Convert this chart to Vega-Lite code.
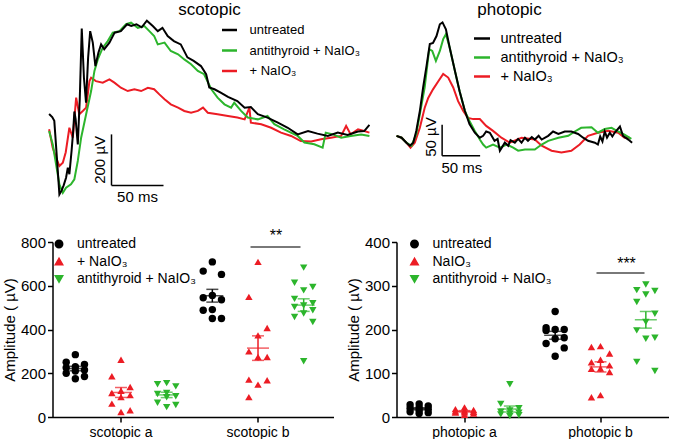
{
  "$schema": "https://vega.github.io/schema/vega-lite/v6.json",
  "padding": {"left": 1.5, "top": 0, "right": 0, "bottom": 0},
  "config": {
    "font": "Liberation Sans",
    "view": {"stroke": null},
    "axis": {"labelColor": "black", "titleColor": "black", "domainColor": "black", "tickColor": "black", "grid": false},
    "legend": {"labelColor": "black"}
  },
  "spacing": 22,
  "resolve": {"scale": {"x": "independent", "y": "independent", "color": "independent", "shape": "independent", "xOffset": "independent"}, "legend": {"color": "independent", "shape": "independent"}},
  "vconcat": [
    {
      "spacing": 6,
      "resolve": {"scale": {"x": "independent", "y": "independent", "color": "independent"}, "legend": {"color": "independent"}},
      "hconcat": [
        {
          "width": 328,
          "height": 184,
          "title": {"text": "scotopic", "fontSize": 17, "fontWeight": "normal", "anchor": "middle", "dx": -7, "offset": -2, "color": "black"},
          "layer": [
            {
              "data": {"values": [
                {"s": "+ NaIO₃", "t": 0, "a": -60}, {"s": "+ NaIO₃", "t": 3.5, "a": -132}, {"s": "+ NaIO₃", "t": 6.7, "a": -171}, {"s": "+ NaIO₃", "t": 9.9, "a": -204}, {"s": "+ NaIO₃", "t": 13.2, "a": -191}, {"s": "+ NaIO₃", "t": 16, "a": -150}, {"s": "+ NaIO₃", "t": 19.5, "a": -54}, {"s": "+ NaIO₃", "t": 22.8, "a": -93}, {"s": "+ NaIO₃", "t": 26, "a": 64}, {"s": "+ NaIO₃", "t": 29, "a": -1}, {"s": "+ NaIO₃", "t": 32.4, "a": 12}, {"s": "+ NaIO₃", "t": 35.6, "a": 25}, {"s": "+ NaIO₃", "t": 38.8, "a": 129}, {"s": "+ NaIO₃", "t": 40.4, "a": 142}, {"s": "+ NaIO₃", "t": 45, "a": 129}, {"s": "+ NaIO₃", "t": 51.6, "a": 123}, {"s": "+ NaIO₃", "t": 58, "a": 136}, {"s": "+ NaIO₃", "t": 62.8, "a": 123}, {"s": "+ NaIO₃", "t": 69, "a": 103}, {"s": "+ NaIO₃", "t": 75.6, "a": 90}, {"s": "+ NaIO₃", "t": 82, "a": 97}, {"s": "+ NaIO₃", "t": 88.5, "a": 90}, {"s": "+ NaIO₃", "t": 95, "a": 103}, {"s": "+ NaIO₃", "t": 101, "a": 97}, {"s": "+ NaIO₃", "t": 106, "a": 77}, {"s": "+ NaIO₃", "t": 111, "a": 58}, {"s": "+ NaIO₃", "t": 117, "a": 38}, {"s": "+ NaIO₃", "t": 124, "a": 25}, {"s": "+ NaIO₃", "t": 130, "a": 12}, {"s": "+ NaIO₃", "t": 136.5, "a": 5}, {"s": "+ NaIO₃", "t": 143, "a": 12}, {"s": "+ NaIO₃", "t": 148, "a": 25}, {"s": "+ NaIO₃", "t": 152.6, "a": 5}, {"s": "+ NaIO₃", "t": 162, "a": -1}, {"s": "+ NaIO₃", "t": 172, "a": -8}, {"s": "+ NaIO₃", "t": 181, "a": -14}, {"s": "+ NaIO₃", "t": 188, "a": -21}, {"s": "+ NaIO₃", "t": 192.6, "a": 25}, {"s": "+ NaIO₃", "t": 194, "a": -34}, {"s": "+ NaIO₃", "t": 204, "a": -40}, {"s": "+ NaIO₃", "t": 213.5, "a": -54}, {"s": "+ NaIO₃", "t": 223, "a": -73}, {"s": "+ NaIO₃", "t": 232.7, "a": -86}, {"s": "+ NaIO₃", "t": 242, "a": -106}, {"s": "+ NaIO₃", "t": 252, "a": -108}, {"s": "+ NaIO₃", "t": 261.5, "a": -99}, {"s": "+ NaIO₃", "t": 271, "a": -93}, {"s": "+ NaIO₃", "t": 280.8, "a": -86}, {"s": "+ NaIO₃", "t": 285.6, "a": -47}, {"s": "+ NaIO₃", "t": 290, "a": -80}, {"s": "+ NaIO₃", "t": 297, "a": -60}, {"s": "+ NaIO₃", "t": 303, "a": -67}, {"s": "+ NaIO₃", "t": 308, "a": -73},
                {"s": "antithyroid + NaIO₃", "t": 0, "a": -67}, {"s": "antithyroid + NaIO₃", "t": 3.5, "a": -119}, {"s": "antithyroid + NaIO₃", "t": 6.7, "a": -197}, {"s": "antithyroid + NaIO₃", "t": 9.9, "a": -276}, {"s": "antithyroid + NaIO₃", "t": 13.2, "a": -309}, {"s": "antithyroid + NaIO₃", "t": 16.3, "a": -289}, {"s": "antithyroid + NaIO₃", "t": 21, "a": -276}, {"s": "antithyroid + NaIO₃", "t": 24.3, "a": -256}, {"s": "antithyroid + NaIO₃", "t": 27.6, "a": -184}, {"s": "antithyroid + NaIO₃", "t": 30.8, "a": -93}, {"s": "antithyroid + NaIO₃", "t": 35.6, "a": -1}, {"s": "antithyroid + NaIO₃", "t": 40.4, "a": 90}, {"s": "antithyroid + NaIO₃", "t": 43.6, "a": 169}, {"s": "antithyroid + NaIO₃", "t": 46.8, "a": 214}, {"s": "antithyroid + NaIO₃", "t": 51.6, "a": 260}, {"s": "antithyroid + NaIO₃", "t": 56.4, "a": 286}, {"s": "antithyroid + NaIO₃", "t": 61.2, "a": 319}, {"s": "antithyroid + NaIO₃", "t": 67.6, "a": 325}, {"s": "antithyroid + NaIO₃", "t": 74, "a": 352}, {"s": "antithyroid + NaIO₃", "t": 78.8, "a": 358}, {"s": "antithyroid + NaIO₃", "t": 85.3, "a": 338}, {"s": "antithyroid + NaIO₃", "t": 91.6, "a": 345}, {"s": "antithyroid + NaIO₃", "t": 96.4, "a": 325}, {"s": "antithyroid + NaIO₃", "t": 101, "a": 306}, {"s": "antithyroid + NaIO₃", "t": 104.5, "a": 273}, {"s": "antithyroid + NaIO₃", "t": 111, "a": 280}, {"s": "antithyroid + NaIO₃", "t": 117, "a": 247}, {"s": "antithyroid + NaIO₃", "t": 124, "a": 234}, {"s": "antithyroid + NaIO₃", "t": 130, "a": 214}, {"s": "antithyroid + NaIO₃", "t": 136.5, "a": 195}, {"s": "antithyroid + NaIO₃", "t": 143, "a": 169}, {"s": "antithyroid + NaIO₃", "t": 149, "a": 156}, {"s": "antithyroid + NaIO₃", "t": 156, "a": 97}, {"s": "antithyroid + NaIO₃", "t": 162, "a": 64}, {"s": "antithyroid + NaIO₃", "t": 168.6, "a": 38}, {"s": "antithyroid + NaIO₃", "t": 175, "a": 25}, {"s": "antithyroid + NaIO₃", "t": 178, "a": 44}, {"s": "antithyroid + NaIO₃", "t": 184.6, "a": 12}, {"s": "antithyroid + NaIO₃", "t": 191, "a": -14}, {"s": "antithyroid + NaIO₃", "t": 200.7, "a": -21}, {"s": "antithyroid + NaIO₃", "t": 210, "a": -8}, {"s": "antithyroid + NaIO₃", "t": 216.6, "a": -40}, {"s": "antithyroid + NaIO₃", "t": 226, "a": -60}, {"s": "antithyroid + NaIO₃", "t": 239, "a": -86}, {"s": "antithyroid + NaIO₃", "t": 245.5, "a": -112}, {"s": "antithyroid + NaIO₃", "t": 255, "a": -119}, {"s": "antithyroid + NaIO₃", "t": 263, "a": -132}, {"s": "antithyroid + NaIO₃", "t": 266, "a": -73}, {"s": "antithyroid + NaIO₃", "t": 272.8, "a": -80}, {"s": "antithyroid + NaIO₃", "t": 280.8, "a": -93}, {"s": "antithyroid + NaIO₃", "t": 290, "a": -86}, {"s": "antithyroid + NaIO₃", "t": 300, "a": -80}, {"s": "antithyroid + NaIO₃", "t": 308, "a": -86},
                {"s": "untreated", "t": 0, "a": 0}, {"s": "untreated", "t": 3, "a": -12}, {"s": "untreated", "t": 5, "a": -27}, {"s": "untreated", "t": 7.7, "a": -184}, {"s": "untreated", "t": 9.9, "a": -315}, {"s": "untreated", "t": 12, "a": -300}, {"s": "untreated", "t": 14, "a": -280}, {"s": "untreated", "t": 16.3, "a": -250}, {"s": "untreated", "t": 18, "a": -211}, {"s": "untreated", "t": 19.5, "a": -236}, {"s": "untreated", "t": 21.6, "a": -145}, {"s": "untreated", "t": 23.1, "a": -70}, {"s": "untreated", "t": 24.3, "a": 10}, {"s": "untreated", "t": 25.5, "a": -20}, {"s": "untreated", "t": 27.6, "a": -119}, {"s": "untreated", "t": 29.5, "a": 60}, {"s": "untreated", "t": 31.4, "a": 335}, {"s": "untreated", "t": 33.5, "a": 142}, {"s": "untreated", "t": 35.5, "a": 44}, {"s": "untreated", "t": 37.5, "a": 220}, {"s": "untreated", "t": 39.5, "a": 325}, {"s": "untreated", "t": 42, "a": 280}, {"s": "untreated", "t": 44.5, "a": 188}, {"s": "untreated", "t": 47.4, "a": 240}, {"s": "untreated", "t": 50, "a": 273}, {"s": "untreated", "t": 53, "a": 254}, {"s": "untreated", "t": 58, "a": 280}, {"s": "untreated", "t": 63, "a": 319}, {"s": "untreated", "t": 69, "a": 325}, {"s": "untreated", "t": 75, "a": 352}, {"s": "untreated", "t": 79, "a": 345}, {"s": "untreated", "t": 84, "a": 352}, {"s": "untreated", "t": 89, "a": 340}, {"s": "untreated", "t": 94, "a": 366}, {"s": "untreated", "t": 99.7, "a": 345}, {"s": "untreated", "t": 104.5, "a": 325}, {"s": "untreated", "t": 109, "a": 338}, {"s": "untreated", "t": 114, "a": 306}, {"s": "untreated", "t": 120, "a": 286}, {"s": "untreated", "t": 126.6, "a": 273}, {"s": "untreated", "t": 133, "a": 222}, {"s": "untreated", "t": 139, "a": 208}, {"s": "untreated", "t": 146, "a": 188}, {"s": "untreated", "t": 151, "a": 156}, {"s": "untreated", "t": 154, "a": 104}, {"s": "untreated", "t": 159, "a": 97}, {"s": "untreated", "t": 165, "a": 84}, {"s": "untreated", "t": 172, "a": 67}, {"s": "untreated", "t": 181, "a": 51}, {"s": "untreated", "t": 188, "a": 25}, {"s": "untreated", "t": 194, "a": 27}, {"s": "untreated", "t": 200.7, "a": -1}, {"s": "untreated", "t": 210, "a": -14}, {"s": "untreated", "t": 220, "a": -34}, {"s": "untreated", "t": 229.5, "a": -54}, {"s": "untreated", "t": 239, "a": -80}, {"s": "untreated", "t": 249, "a": -67}, {"s": "untreated", "t": 258, "a": -77}, {"s": "untreated", "t": 268, "a": -86}, {"s": "untreated", "t": 277.6, "a": -73}, {"s": "untreated", "t": 287, "a": -82}, {"s": "untreated", "t": 297, "a": -69}, {"s": "untreated", "t": 303, "a": -67}, {"s": "untreated", "t": 308, "a": -43}
              ]},
              "mark": {"type": "line", "strokeWidth": 2},
              "encoding": {
                "x": {"field": "t", "type": "quantitative", "scale": {"domain": [3.27, 318.65], "nice": false, "zero": false}, "axis": null},
                "y": {"field": "a", "type": "quantitative", "scale": {"domain": [-341.2, 380.4], "nice": false, "zero": false}, "axis": null},
                "color": {"field": "s", "type": "nominal",
                  "scale": {"domain": ["untreated", "antithyroid + NaIO₃", "+ NaIO₃"], "range": ["#000000", "#2cb52c", "#ec1c24"]},
                  "legend": {"orient": "none", "legendX": 168, "legendY": 4, "title": null, "symbolType": "stroke", "symbolStrokeWidth": 2.5, "symbolSize": 225, "labelFontSize": 13, "labelOffset": 11, "rowPadding": 4.5, "padding": 0}}
              }
            },
            {
              "data": {"values": [{"t": 60, "a": -80, "t2": 60, "a2": -280}, {"t": 60, "a": -280, "t2": 110, "a2": -280}]},
              "mark": {"type": "rule", "color": "black", "strokeWidth": 1.5},
              "encoding": {"x": {"field": "t", "type": "quantitative"}, "y": {"field": "a", "type": "quantitative"}, "x2": {"field": "t2"}, "y2": {"field": "a2"}}
            },
            {
              "data": {"values": [{"t": 49, "a": -180, "label": "200 µV"}]},
              "mark": {"type": "text", "angle": 270, "fontSize": 15, "color": "black", "baseline": "middle", "align": "center"},
              "encoding": {"x": {"field": "t", "type": "quantitative"}, "y": {"field": "a", "type": "quantitative"}, "text": {"field": "label"}}
            },
            {
              "data": {"values": [{"t": 85, "a": -326, "label": "50 ms"}]},
              "mark": {"type": "text", "fontSize": 15, "color": "black", "baseline": "middle", "align": "center"},
              "encoding": {"x": {"field": "t", "type": "quantitative"}, "y": {"field": "a", "type": "quantitative"}, "text": {"field": "label"}}
            }
          ]
        },
        {
          "width": 288,
          "height": 184,
          "title": {"text": "photopic", "fontSize": 17, "fontWeight": "normal", "anchor": "middle", "dx": -21, "offset": -2, "color": "black"},
          "layer": [
            {
              "data": {"values": [
                {"s": "+ NaIO₃", "t": 0, "a": -3}, {"s": "+ NaIO₃", "t": 6.6, "a": -6}, {"s": "+ NaIO₃", "t": 13, "a": -14}, {"s": "+ NaIO₃", "t": 18.4, "a": -22}, {"s": "+ NaIO₃", "t": 24, "a": -14}, {"s": "+ NaIO₃", "t": 30.7, "a": 10}, {"s": "+ NaIO₃", "t": 37, "a": 42}, {"s": "+ NaIO₃", "t": 41.7, "a": 58}, {"s": "+ NaIO₃", "t": 48, "a": 72}, {"s": "+ NaIO₃", "t": 55, "a": 85}, {"s": "+ NaIO₃", "t": 61.4, "a": 97}, {"s": "+ NaIO₃", "t": 68, "a": 91}, {"s": "+ NaIO₃", "t": 74.6, "a": 75}, {"s": "+ NaIO₃", "t": 81, "a": 53}, {"s": "+ NaIO₃", "t": 87.8, "a": 37}, {"s": "+ NaIO₃", "t": 94, "a": 26}, {"s": "+ NaIO₃", "t": 101, "a": 24}, {"s": "+ NaIO₃", "t": 109.6, "a": 24}, {"s": "+ NaIO₃", "t": 118, "a": 13}, {"s": "+ NaIO₃", "t": 127, "a": 5}, {"s": "+ NaIO₃", "t": 138, "a": -6}, {"s": "+ NaIO₃", "t": 149, "a": -14}, {"s": "+ NaIO₃", "t": 164.5, "a": -6}, {"s": "+ NaIO₃", "t": 182, "a": -9}, {"s": "+ NaIO₃", "t": 191, "a": -19}, {"s": "+ NaIO₃", "t": 204, "a": -27}, {"s": "+ NaIO₃", "t": 217, "a": -30}, {"s": "+ NaIO₃", "t": 230, "a": -27}, {"s": "+ NaIO₃", "t": 241, "a": -17}, {"s": "+ NaIO₃", "t": 252, "a": -3}, {"s": "+ NaIO₃", "t": 265, "a": 2}, {"s": "+ NaIO₃", "t": 278.5, "a": 5}, {"s": "+ NaIO₃", "t": 291.7, "a": 2}, {"s": "+ NaIO₃", "t": 300, "a": -6}, {"s": "+ NaIO₃", "t": 307, "a": -6},
                {"s": "antithyroid + NaIO₃", "t": 0, "a": -3}, {"s": "antithyroid + NaIO₃", "t": 6.6, "a": -6}, {"s": "antithyroid + NaIO₃", "t": 13, "a": -14}, {"s": "antithyroid + NaIO₃", "t": 19.7, "a": -19}, {"s": "antithyroid + NaIO₃", "t": 26, "a": 0}, {"s": "antithyroid + NaIO₃", "t": 30.7, "a": 32}, {"s": "antithyroid + NaIO₃", "t": 37, "a": 75}, {"s": "antithyroid + NaIO₃", "t": 43, "a": 137}, {"s": "antithyroid + NaIO₃", "t": 47, "a": 134}, {"s": "antithyroid + NaIO₃", "t": 51.8, "a": 118}, {"s": "antithyroid + NaIO₃", "t": 57, "a": 134}, {"s": "antithyroid + NaIO₃", "t": 61.4, "a": 153}, {"s": "antithyroid + NaIO₃", "t": 65, "a": 161}, {"s": "antithyroid + NaIO₃", "t": 70, "a": 139}, {"s": "antithyroid + NaIO₃", "t": 76.8, "a": 102}, {"s": "antithyroid + NaIO₃", "t": 83, "a": 69}, {"s": "antithyroid + NaIO₃", "t": 90, "a": 37}, {"s": "antithyroid + NaIO₃", "t": 96, "a": 21}, {"s": "antithyroid + NaIO₃", "t": 103, "a": 5}, {"s": "antithyroid + NaIO₃", "t": 109.6, "a": -9}, {"s": "antithyroid + NaIO₃", "t": 114, "a": -17}, {"s": "antithyroid + NaIO₃", "t": 118, "a": -22}, {"s": "antithyroid + NaIO₃", "t": 127, "a": -17}, {"s": "antithyroid + NaIO₃", "t": 136, "a": -22}, {"s": "antithyroid + NaIO₃", "t": 145, "a": -17}, {"s": "antithyroid + NaIO₃", "t": 153.5, "a": -22}, {"s": "antithyroid + NaIO₃", "t": 160, "a": -27}, {"s": "antithyroid + NaIO₃", "t": 169, "a": -25}, {"s": "antithyroid + NaIO₃", "t": 182, "a": -25}, {"s": "antithyroid + NaIO₃", "t": 191, "a": -17}, {"s": "antithyroid + NaIO₃", "t": 199.6, "a": -11}, {"s": "antithyroid + NaIO₃", "t": 213, "a": -6}, {"s": "antithyroid + NaIO₃", "t": 226, "a": -3}, {"s": "antithyroid + NaIO₃", "t": 234.6, "a": 4}, {"s": "antithyroid + NaIO₃", "t": 243, "a": 10}, {"s": "antithyroid + NaIO₃", "t": 256.6, "a": 11}, {"s": "antithyroid + NaIO₃", "t": 265, "a": 2}, {"s": "antithyroid + NaIO₃", "t": 274, "a": 8}, {"s": "antithyroid + NaIO₃", "t": 283, "a": 10}, {"s": "antithyroid + NaIO₃", "t": 291.7, "a": 4}, {"s": "antithyroid + NaIO₃", "t": 300, "a": -1}, {"s": "antithyroid + NaIO₃", "t": 309, "a": -8},
                {"s": "untreated", "t": 0, "a": -3}, {"s": "untreated", "t": 6.6, "a": -6}, {"s": "untreated", "t": 13, "a": -14}, {"s": "untreated", "t": 17.5, "a": -19}, {"s": "untreated", "t": 22, "a": -14}, {"s": "untreated", "t": 26, "a": 5}, {"s": "untreated", "t": 30.7, "a": 37}, {"s": "untreated", "t": 35, "a": 75}, {"s": "untreated", "t": 39.5, "a": 110}, {"s": "untreated", "t": 43.8, "a": 145}, {"s": "untreated", "t": 48, "a": 147}, {"s": "untreated", "t": 52.6, "a": 158}, {"s": "untreated", "t": 57, "a": 177}, {"s": "untreated", "t": 60.5, "a": 180}, {"s": "untreated", "t": 65, "a": 169}, {"s": "untreated", "t": 70, "a": 139}, {"s": "untreated", "t": 76.8, "a": 102}, {"s": "untreated", "t": 83, "a": 69}, {"s": "untreated", "t": 90, "a": 37}, {"s": "untreated", "t": 96, "a": 16}, {"s": "untreated", "t": 103, "a": 2}, {"s": "untreated", "t": 109.6, "a": -6}, {"s": "untreated", "t": 114, "a": -3}, {"s": "untreated", "t": 118, "a": 4}, {"s": "untreated", "t": 122.8, "a": 2}, {"s": "untreated", "t": 129, "a": -11}, {"s": "untreated", "t": 133, "a": -8}, {"s": "untreated", "t": 136, "a": -27}, {"s": "untreated", "t": 142.5, "a": -14}, {"s": "untreated", "t": 147, "a": -19}, {"s": "untreated", "t": 150, "a": -10}, {"s": "untreated", "t": 155.7, "a": -14}, {"s": "untreated", "t": 160, "a": -8}, {"s": "untreated", "t": 164.5, "a": -14}, {"s": "untreated", "t": 169, "a": -6}, {"s": "untreated", "t": 173, "a": -11}, {"s": "untreated", "t": 178, "a": -5}, {"s": "untreated", "t": 182, "a": -9}, {"s": "untreated", "t": 187, "a": -3}, {"s": "untreated", "t": 191, "a": -9}, {"s": "untreated", "t": 199.6, "a": -3}, {"s": "untreated", "t": 206, "a": 4}, {"s": "untreated", "t": 213, "a": 0}, {"s": "untreated", "t": 221.4, "a": 4}, {"s": "untreated", "t": 230, "a": 4}, {"s": "untreated", "t": 239, "a": 0}, {"s": "untreated", "t": 245.6, "a": -6}, {"s": "untreated", "t": 252, "a": -11}, {"s": "untreated", "t": 261, "a": -14}, {"s": "untreated", "t": 265, "a": -17}, {"s": "untreated", "t": 268, "a": -4}, {"s": "untreated", "t": 271, "a": -12}, {"s": "untreated", "t": 274, "a": 4}, {"s": "untreated", "t": 277, "a": -6}, {"s": "untreated", "t": 280.7, "a": 2}, {"s": "untreated", "t": 284, "a": -4}, {"s": "untreated", "t": 287, "a": 2}, {"s": "untreated", "t": 294, "a": 12}, {"s": "untreated", "t": 298, "a": -3}, {"s": "untreated", "t": 305, "a": -9}, {"s": "untreated", "t": 310, "a": -14}
              ]},
              "mark": {"type": "line", "strokeWidth": 2},
              "encoding": {
                "x": {"field": "t", "type": "quantitative", "scale": {"domain": [-13.2, 365.8], "nice": false, "zero": false}, "axis": null},
                "y": {"field": "a", "type": "quantitative", "scale": {"domain": [-108.1, 188.7], "nice": false, "zero": false}, "axis": null},
                "color": {"field": "s", "type": "nominal",
                  "scale": {"domain": ["untreated", "antithyroid + NaIO₃", "+ NaIO₃"], "range": ["#000000", "#2cb52c", "#ec1c24"]},
                  "legend": {"orient": "none", "legendX": 86, "legendY": 12, "title": null, "symbolType": "stroke", "symbolStrokeWidth": 2.5, "symbolSize": 256, "labelFontSize": 14.5, "labelOffset": 9, "rowPadding": 3, "padding": 0}}
              }
            },
            {
              "data": {"values": [{"t": 60, "a": 15, "t2": 60, "a2": -35}, {"t": 60, "a": -35, "t2": 110, "a2": -35}]},
              "mark": {"type": "rule", "color": "black", "strokeWidth": 1.5},
              "encoding": {"x": {"field": "t", "type": "quantitative"}, "y": {"field": "a", "type": "quantitative"}, "x2": {"field": "t2"}, "y2": {"field": "a2"}}
            },
            {
              "data": {"values": [{"t": 45, "a": -5, "label": "50 µV"}]},
              "mark": {"type": "text", "angle": 270, "fontSize": 15, "color": "black", "baseline": "middle", "align": "center"},
              "encoding": {"x": {"field": "t", "type": "quantitative"}, "y": {"field": "a", "type": "quantitative"}, "text": {"field": "label"}}
            },
            {
              "data": {"values": [{"t": 86, "a": -55, "label": "50 ms"}]},
              "mark": {"type": "text", "fontSize": 15, "color": "black", "baseline": "middle", "align": "center"},
              "encoding": {"x": {"field": "t", "type": "quantitative"}, "y": {"field": "a", "type": "quantitative"}, "text": {"field": "label"}}
            }
          ]
        }
      ]
    },
    {
      "spacing": 12,
      "resolve": {"scale": {"x": "independent", "y": "independent", "color": "independent", "shape": "independent", "xOffset": "independent"}, "legend": {"color": "independent", "shape": "independent"}},
      "hconcat": [
        {
          "width": 281,
          "height": 175,
          "data": {"values": [
            {"c": "scotopic a", "g": "untreated", "v": 285}, {"c": "scotopic a", "g": "untreated", "v": 250}, {"c": "scotopic a", "g": "untreated", "v": 240}, {"c": "scotopic a", "g": "untreated", "v": 230}, {"c": "scotopic a", "g": "untreated", "v": 225}, {"c": "scotopic a", "g": "untreated", "v": 215}, {"c": "scotopic a", "g": "untreated", "v": 210}, {"c": "scotopic a", "g": "untreated", "v": 200}, {"c": "scotopic a", "g": "untreated", "v": 185}, {"c": "scotopic a", "g": "untreated", "v": 175},
            {"c": "scotopic a", "g": "+ NaIO₃", "v": 262}, {"c": "scotopic a", "g": "+ NaIO₃", "v": 186}, {"c": "scotopic a", "g": "+ NaIO₃", "v": 137}, {"c": "scotopic a", "g": "+ NaIO₃", "v": 120}, {"c": "scotopic a", "g": "+ NaIO₃", "v": 110}, {"c": "scotopic a", "g": "+ NaIO₃", "v": 100}, {"c": "scotopic a", "g": "+ NaIO₃", "v": 91}, {"c": "scotopic a", "g": "+ NaIO₃", "v": 61}, {"c": "scotopic a", "g": "+ NaIO₃", "v": 31}, {"c": "scotopic a", "g": "+ NaIO₃", "v": 23},
            {"c": "scotopic a", "g": "antithyroid + NaIO₃", "v": 155}, {"c": "scotopic a", "g": "antithyroid + NaIO₃", "v": 150}, {"c": "scotopic a", "g": "antithyroid + NaIO₃", "v": 140}, {"c": "scotopic a", "g": "antithyroid + NaIO₃", "v": 110}, {"c": "scotopic a", "g": "antithyroid + NaIO₃", "v": 105}, {"c": "scotopic a", "g": "antithyroid + NaIO₃", "v": 95}, {"c": "scotopic a", "g": "antithyroid + NaIO₃", "v": 90}, {"c": "scotopic a", "g": "antithyroid + NaIO₃", "v": 65}, {"c": "scotopic a", "g": "antithyroid + NaIO₃", "v": 55}, {"c": "scotopic a", "g": "antithyroid + NaIO₃", "v": 45},
            {"c": "scotopic b", "g": "untreated", "v": 709}, {"c": "scotopic b", "g": "untreated", "v": 667}, {"c": "scotopic b", "g": "untreated", "v": 652}, {"c": "scotopic b", "g": "untreated", "v": 556}, {"c": "scotopic b", "g": "untreated", "v": 545}, {"c": "scotopic b", "g": "untreated", "v": 536}, {"c": "scotopic b", "g": "untreated", "v": 491}, {"c": "scotopic b", "g": "untreated", "v": 488}, {"c": "scotopic b", "g": "untreated", "v": 450}, {"c": "scotopic b", "g": "untreated", "v": 450},
            {"c": "scotopic b", "g": "+ NaIO₃", "v": 709}, {"c": "scotopic b", "g": "+ NaIO₃", "v": 549}, {"c": "scotopic b", "g": "+ NaIO₃", "v": 407}, {"c": "scotopic b", "g": "+ NaIO₃", "v": 373}, {"c": "scotopic b", "g": "+ NaIO₃", "v": 300}, {"c": "scotopic b", "g": "+ NaIO₃", "v": 274}, {"c": "scotopic b", "g": "+ NaIO₃", "v": 274}, {"c": "scotopic b", "g": "+ NaIO₃", "v": 171}, {"c": "scotopic b", "g": "+ NaIO₃", "v": 168}, {"c": "scotopic b", "g": "+ NaIO₃", "v": 148}, {"c": "scotopic b", "g": "+ NaIO₃", "v": 91},
            {"c": "scotopic b", "g": "antithyroid + NaIO₃", "v": 683}, {"c": "scotopic b", "g": "antithyroid + NaIO₃", "v": 614}, {"c": "scotopic b", "g": "antithyroid + NaIO₃", "v": 594}, {"c": "scotopic b", "g": "antithyroid + NaIO₃", "v": 579}, {"c": "scotopic b", "g": "antithyroid + NaIO₃", "v": 540}, {"c": "scotopic b", "g": "antithyroid + NaIO₃", "v": 520}, {"c": "scotopic b", "g": "antithyroid + NaIO₃", "v": 510}, {"c": "scotopic b", "g": "antithyroid + NaIO₃", "v": 503}, {"c": "scotopic b", "g": "antithyroid + NaIO₃", "v": 488}, {"c": "scotopic b", "g": "antithyroid + NaIO₃", "v": 473}, {"c": "scotopic b", "g": "antithyroid + NaIO₃", "v": 457}, {"c": "scotopic b", "g": "antithyroid + NaIO₃", "v": 434}, {"c": "scotopic b", "g": "antithyroid + NaIO₃", "v": 255}
          ]},
          "transform": [
            {"window": [{"op": "row_number", "as": "i"}], "groupby": ["c", "g"], "sort": [{"field": "v", "order": "descending"}]},
            {"calculate": "indexof(['untreated', '+ NaIO₃', 'antithyroid + NaIO₃'], datum.g)", "as": "gi"}
          ],
          "layer": [
            {
              "transform": [{"calculate": "datum.gi * 5 + [1, 0, 2][(datum.i - 1) % 3]", "as": "slot"}],
              "mark": {"type": "point", "filled": true, "size": 55, "opacity": 1},
              "encoding": {
                "x": {"field": "c", "type": "nominal", "scale": {"domain": ["scotopic a", "scotopic b"], "paddingInner": 0, "paddingOuter": 0.0255, "align": 0},
                  "axis": {"title": null, "labelAngle": 0, "labelFontSize": 14, "tickSize": 5, "tickWidth": 1.5, "domainWidth": 1.5, "labelPadding": 3}},
                "xOffset": {"field": "slot", "type": "ordinal", "scale": {"domain": [0, 1, 2, 3, 4, 5, 6, 7, 8, 9, 10, 11, 12], "paddingInner": 0, "paddingOuter": 2.75}},
                "y": {"field": "v", "type": "quantitative", "scale": {"domain": [0, 800], "nice": false},
                  "axis": {"title": "Amplitude ( µV)", "values": [0, 200, 400, 600, 800], "labelFontSize": 15, "titleFontSize": 15, "titleFontWeight": "normal", "tickSize": 5, "tickWidth": 1.5, "domainWidth": 1.5, "labelPadding": 2, "titlePadding": 3, "labelFlush": false, "labelOverlap": false}},
                "color": {"field": "g", "type": "nominal", "scale": {"domain": ["untreated", "+ NaIO₃", "antithyroid + NaIO₃"], "range": ["#000000", "#ec1c24", "#2cb52c"]},
                  "legend": {"orient": "none", "legendX": -0.5, "legendY": -5, "title": null, "labelFontSize": 14, "symbolSize": 55, "labelOffset": 11, "rowPadding": 3.5, "padding": 0}},
                "shape": {"field": "g", "type": "nominal", "scale": {"domain": ["untreated", "+ NaIO₃", "antithyroid + NaIO₃"], "range": ["circle", "triangle-up", "triangle-down"]},
                  "legend": {"orient": "none", "legendX": -0.5, "legendY": -5, "title": null, "labelFontSize": 14, "symbolSize": 55, "labelOffset": 11, "rowPadding": 3.5, "padding": 0}}
              }
            },
            {
              "transform": [
                {"aggregate": [{"op": "mean", "field": "v", "as": "m"}, {"op": "stderr", "field": "v", "as": "se"}], "groupby": ["c", "g", "gi"]},
                {"calculate": "datum.m - datum.se", "as": "lo"},
                {"calculate": "datum.m + datum.se", "as": "hi"},
                {"calculate": "datum.gi * 5 + 1", "as": "slot"}
              ],
              "encoding": {
                "x": {"field": "c", "type": "nominal", "scale": {"domain": ["scotopic a", "scotopic b"], "paddingInner": 0, "paddingOuter": 0.0255, "align": 0}},
                "xOffset": {"field": "slot", "type": "ordinal", "scale": {"domain": [0, 1, 2, 3, 4, 5, 6, 7, 8, 9, 10, 11, 12], "paddingInner": 0, "paddingOuter": 2.75}},
                "color": {"field": "g", "type": "nominal", "scale": {"domain": ["untreated", "+ NaIO₃", "antithyroid + NaIO₃"], "range": ["#000000", "#ec1c24", "#2cb52c"]}}
              },
              "layer": [
                {"mark": {"type": "rule", "strokeWidth": 1.5}, "encoding": {"y": {"field": "lo", "type": "quantitative"}, "y2": {"field": "hi"}}},
                {"mark": {"type": "tick", "size": 22, "thickness": 1.5}, "encoding": {"y": {"field": "m", "type": "quantitative"}}},
                {"mark": {"type": "tick", "size": 12, "thickness": 1.5}, "encoding": {"y": {"field": "lo", "type": "quantitative"}}},
                {"mark": {"type": "tick", "size": 12, "thickness": 1.5}, "encoding": {"y": {"field": "hi", "type": "quantitative"}}}
              ]
            },
            {
              "data": {"values": [{"c": "scotopic b", "v": 777, "label": "**"}]},
              "encoding": {
                "x": {"field": "c", "type": "nominal", "scale": {"domain": ["scotopic a", "scotopic b"], "paddingInner": 0, "paddingOuter": 0.0255, "align": 0}},
                "y": {"field": "v", "type": "quantitative"}
              },
              "layer": [
                {"mark": {"type": "tick", "size": 50, "thickness": 1.5, "color": "black", "xOffset": 17.5}},
                {"mark": {"type": "text", "fontSize": 16, "color": "black", "baseline": "middle", "dx": 18, "dy": -11}, "encoding": {"text": {"field": "label"}}}
              ]
            }
          ]
        },
        {
          "width": 272,
          "height": 175,
          "data": {"values": [
            {"c": "photopic a", "g": "untreated", "v": 30}, {"c": "photopic a", "g": "untreated", "v": 28}, {"c": "photopic a", "g": "untreated", "v": 25}, {"c": "photopic a", "g": "untreated", "v": 22}, {"c": "photopic a", "g": "untreated", "v": 20}, {"c": "photopic a", "g": "untreated", "v": 18}, {"c": "photopic a", "g": "untreated", "v": 15}, {"c": "photopic a", "g": "untreated", "v": 12}, {"c": "photopic a", "g": "untreated", "v": 10}, {"c": "photopic a", "g": "untreated", "v": 8},
            {"c": "photopic a", "g": " NaIO₃", "v": 22}, {"c": "photopic a", "g": " NaIO₃", "v": 18}, {"c": "photopic a", "g": " NaIO₃", "v": 16}, {"c": "photopic a", "g": " NaIO₃", "v": 15}, {"c": "photopic a", "g": " NaIO₃", "v": 13}, {"c": "photopic a", "g": " NaIO₃", "v": 12}, {"c": "photopic a", "g": " NaIO₃", "v": 11}, {"c": "photopic a", "g": " NaIO₃", "v": 10}, {"c": "photopic a", "g": " NaIO₃", "v": 8}, {"c": "photopic a", "g": " NaIO₃", "v": 5},
            {"c": "photopic a", "g": "antithyroid + NaIO₃", "v": 75}, {"c": "photopic a", "g": "antithyroid + NaIO₃", "v": 30}, {"c": "photopic a", "g": "antithyroid + NaIO₃", "v": 20}, {"c": "photopic a", "g": "antithyroid + NaIO₃", "v": 15}, {"c": "photopic a", "g": "antithyroid + NaIO₃", "v": 12}, {"c": "photopic a", "g": "antithyroid + NaIO₃", "v": 10}, {"c": "photopic a", "g": "antithyroid + NaIO₃", "v": 8}, {"c": "photopic a", "g": "antithyroid + NaIO₃", "v": 6}, {"c": "photopic a", "g": "antithyroid + NaIO₃", "v": 4}, {"c": "photopic a", "g": "antithyroid + NaIO₃", "v": 2},
            {"c": "photopic b", "g": "untreated", "v": 241}, {"c": "photopic b", "g": "untreated", "v": 204}, {"c": "photopic b", "g": "untreated", "v": 200}, {"c": "photopic b", "g": "untreated", "v": 200}, {"c": "photopic b", "g": "untreated", "v": 198}, {"c": "photopic b", "g": "untreated", "v": 181}, {"c": "photopic b", "g": "untreated", "v": 179}, {"c": "photopic b", "g": "untreated", "v": 168}, {"c": "photopic b", "g": "untreated", "v": 158}, {"c": "photopic b", "g": "untreated", "v": 139},
            {"c": "photopic b", "g": " NaIO₃", "v": 162}, {"c": "photopic b", "g": " NaIO₃", "v": 160}, {"c": "photopic b", "g": " NaIO₃", "v": 145}, {"c": "photopic b", "g": " NaIO₃", "v": 131}, {"c": "photopic b", "g": " NaIO₃", "v": 125}, {"c": "photopic b", "g": " NaIO₃", "v": 118}, {"c": "photopic b", "g": " NaIO₃", "v": 111}, {"c": "photopic b", "g": " NaIO₃", "v": 110}, {"c": "photopic b", "g": " NaIO₃", "v": 103}, {"c": "photopic b", "g": " NaIO₃", "v": 50}, {"c": "photopic b", "g": " NaIO₃", "v": 45},
            {"c": "photopic b", "g": "antithyroid + NaIO₃", "v": 303}, {"c": "photopic b", "g": "antithyroid + NaIO₃", "v": 290}, {"c": "photopic b", "g": "antithyroid + NaIO₃", "v": 288}, {"c": "photopic b", "g": "antithyroid + NaIO₃", "v": 280}, {"c": "photopic b", "g": "antithyroid + NaIO₃", "v": 263}, {"c": "photopic b", "g": "antithyroid + NaIO₃", "v": 236}, {"c": "photopic b", "g": "antithyroid + NaIO₃", "v": 217}, {"c": "photopic b", "g": "antithyroid + NaIO₃", "v": 198}, {"c": "photopic b", "g": "antithyroid + NaIO₃", "v": 181}, {"c": "photopic b", "g": "antithyroid + NaIO₃", "v": 179}, {"c": "photopic b", "g": "antithyroid + NaIO₃", "v": 126}, {"c": "photopic b", "g": "antithyroid + NaIO₃", "v": 105}
          ]},
          "transform": [
            {"window": [{"op": "row_number", "as": "i"}], "groupby": ["c", "g"], "sort": [{"field": "v", "order": "descending"}]},
            {"calculate": "indexof(['untreated', ' NaIO₃', 'antithyroid + NaIO₃'], datum.g)", "as": "gi"}
          ],
          "layer": [
            {
              "transform": [{"calculate": "datum.gi * 5 + [1, 0, 2][(datum.i - 1) % 3]", "as": "slot"}],
              "mark": {"type": "point", "filled": true, "size": 55, "opacity": 1},
              "encoding": {
                "x": {"field": "c", "type": "nominal", "scale": {"domain": ["photopic a", "photopic b"], "paddingInner": 0, "paddingOuter": 0},
                  "axis": {"title": null, "labelAngle": 0, "labelFontSize": 14, "tickSize": 5, "tickWidth": 1.5, "domainWidth": 1.5, "labelPadding": 3}},
                "xOffset": {"field": "slot", "type": "ordinal", "scale": {"domain": [0, 1, 2, 3, 4, 5, 6, 7, 8, 9, 10, 11, 12], "paddingInner": 0, "paddingOuter": 2.75}},
                "y": {"field": "v", "type": "quantitative", "scale": {"domain": [0, 400], "nice": false},
                  "axis": {"title": "Amplitude ( µV)", "values": [0, 100, 200, 300, 400], "labelFontSize": 15, "titleFontSize": 15, "titleFontWeight": "normal", "tickSize": 5, "tickWidth": 1.5, "domainWidth": 1.5, "labelPadding": 2, "titlePadding": 3, "labelFlush": false, "labelOverlap": false}},
                "color": {"field": "g", "type": "nominal", "scale": {"domain": ["untreated", " NaIO₃", "antithyroid + NaIO₃"], "range": ["#000000", "#ec1c24", "#2cb52c"]},
                  "legend": {"orient": "none", "legendX": 11, "legendY": -5, "title": null, "labelFontSize": 14, "symbolSize": 55, "labelOffset": 11, "rowPadding": 3.5, "padding": 0}},
                "shape": {"field": "g", "type": "nominal", "scale": {"domain": ["untreated", " NaIO₃", "antithyroid + NaIO₃"], "range": ["circle", "triangle-up", "triangle-down"]},
                  "legend": {"orient": "none", "legendX": 11, "legendY": -5, "title": null, "labelFontSize": 14, "symbolSize": 55, "labelOffset": 11, "rowPadding": 3.5, "padding": 0}}
              }
            },
            {
              "transform": [
                {"aggregate": [{"op": "mean", "field": "v", "as": "m"}, {"op": "stderr", "field": "v", "as": "se"}], "groupby": ["c", "g", "gi"]},
                {"calculate": "datum.m - datum.se", "as": "lo"},
                {"calculate": "datum.m + datum.se", "as": "hi"},
                {"calculate": "datum.gi * 5 + 1", "as": "slot"}
              ],
              "encoding": {
                "x": {"field": "c", "type": "nominal", "scale": {"domain": ["photopic a", "photopic b"], "paddingInner": 0, "paddingOuter": 0}},
                "xOffset": {"field": "slot", "type": "ordinal", "scale": {"domain": [0, 1, 2, 3, 4, 5, 6, 7, 8, 9, 10, 11, 12], "paddingInner": 0, "paddingOuter": 2.75}},
                "color": {"field": "g", "type": "nominal", "scale": {"domain": ["untreated", " NaIO₃", "antithyroid + NaIO₃"], "range": ["#000000", "#ec1c24", "#2cb52c"]}}
              },
              "layer": [
                {"mark": {"type": "rule", "strokeWidth": 1.5}, "encoding": {"y": {"field": "lo", "type": "quantitative"}, "y2": {"field": "hi"}}},
                {"mark": {"type": "tick", "size": 22, "thickness": 1.5}, "encoding": {"y": {"field": "m", "type": "quantitative"}}},
                {"mark": {"type": "tick", "size": 12, "thickness": 1.5}, "encoding": {"y": {"field": "lo", "type": "quantitative"}}},
                {"mark": {"type": "tick", "size": 12, "thickness": 1.5}, "encoding": {"y": {"field": "hi", "type": "quantitative"}}}
              ]
            },
            {
              "data": {"values": [{"c": "photopic b", "v": 329, "label": "***"}]},
              "encoding": {
                "x": {"field": "c", "type": "nominal", "scale": {"domain": ["photopic a", "photopic b"], "paddingInner": 0, "paddingOuter": 0}},
                "y": {"field": "v", "type": "quantitative"}
              },
              "layer": [
                {"mark": {"type": "tick", "size": 48, "thickness": 1.5, "color": "black", "xOffset": 20}},
                {"mark": {"type": "text", "fontSize": 16, "color": "black", "baseline": "middle", "dx": 26, "dy": -9}, "encoding": {"text": {"field": "label"}}}
              ]
            }
          ]
        }
      ]
    }
  ]
}
